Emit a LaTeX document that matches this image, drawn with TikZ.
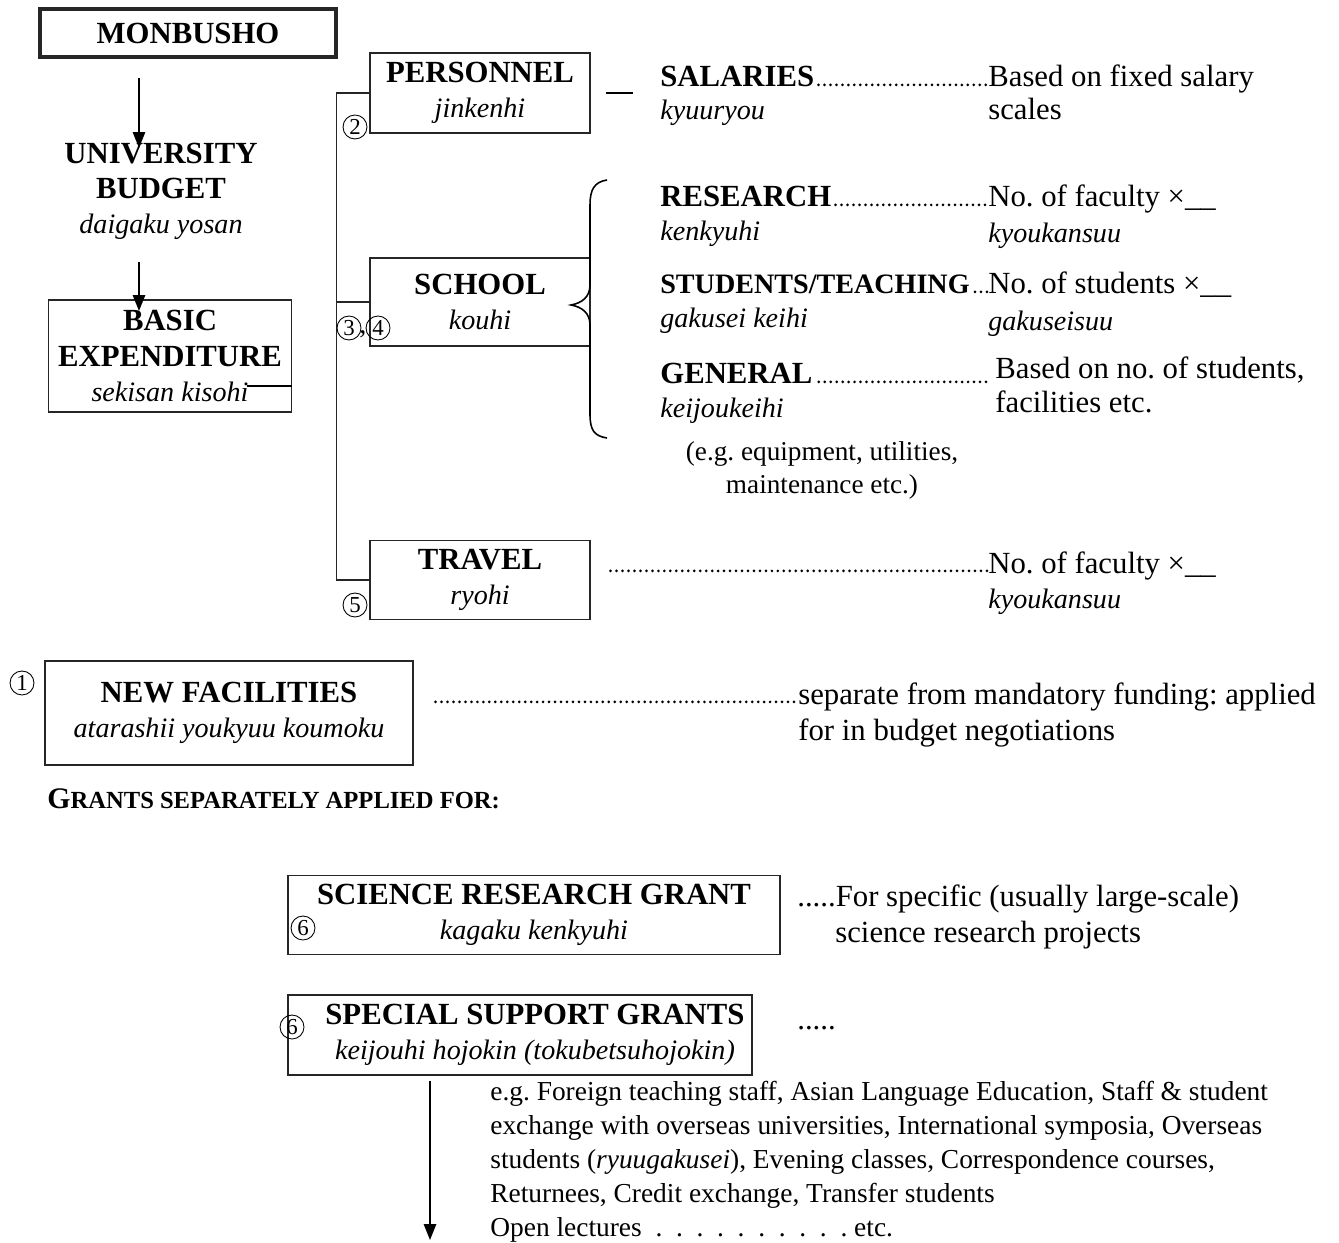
\documentclass[tikz,border=0pt]{standalone}
\usepackage{fontspec}
\setmainfont{Liberation Serif}
\usetikzlibrary{arrows.meta}

\newcommand{\hd}[1]{{\bfseries #1}}
\newcommand{\jp}[1]{{\itshape\fontsize{16}{20}\selectfont #1}}
\frenchspacing

\begin{document}
\begin{tikzpicture}[x=0.02cm, y=-0.02cm, >={Triangle[length=9pt,width=7pt]},
    every node/.style={font=\fontsize{17.5}{20}\selectfont, inner sep=0pt},
    box/.style={draw=black!85, line width=0.7pt, align=center},
    lbl/.style={anchor=base west},
    circnum/.style={circle, draw, line width=0.5pt, minimum size=0.48cm, font=\fontsize{13}{13}\selectfont},
    leader/.style={line width=1.7pt, line cap=round, dash pattern=on 0pt off 3.4pt, transform canvas={yshift=1.2pt}},
    arr/.style={->, line width=0.9pt}]

    \useasboundingbox (0,0) rectangle (1339,1243);

    % ministry down to the basic expenditure
    \node[box, line width=2.4pt, minimum width=5.92cm, minimum height=0.96cm] (monbusho) at (188,33) {\hd{MONBUSHO}};
    \node[align=center] (univ) at (161,191) {\hd{UNIVERSITY}\\\hd{BUDGET}\\\jp{daigaku yosan}};
    \node[box, minimum width=4.86cm, minimum height=2.24cm] (basic) at (170,356) {\hd{BASIC}\\\hd{EXPENDITURE}\\\jp{sekisan kisohi}};
    \coordinate (monfoot) at (139,78);
    \coordinate (univtop) at (139,148);
    \coordinate (budgetfoot) at (139,262);
    \coordinate (basictop) at (139,311);
    \draw[arr] (monfoot) -- (univtop);
    \draw[arr] (budgetfoot) -- (basictop);
    \draw[line width=0.7pt] (basic.east) ++(0,30) -- ++(-45,0);

    % the three heads of expenditure
    \node[box, minimum width=4.4cm, minimum height=1.6cm] (pers) at (480,93) {\hd{PERSONNEL}\\\jp{jinkenhi}};
    \node[box, minimum width=4.4cm, minimum height=1.76cm] (school) at (480,302) {\hd{SCHOOL}\\\jp{kouhi}};
    \node[box, minimum width=4.4cm, minimum height=1.58cm] (travel) at (480,580) {\hd{TRAVEL}\\\jp{ryohi}};
    \draw[line width=0.7pt, draw=black!85] (pers.west) -- ++(-33,0) |- (travel.west);
    \draw[line width=0.7pt, draw=black!85] (school.west) -- ++(-33,0);

    \node[circnum] (c2) at (355,127) {2};
    \node[circnum] (c3) at (349,328) {3};
    \node[anchor=base, font=\fontsize{16}{16}\selectfont] (comma) at (363,334) {,};
    \node[circnum] (c4) at (378,328) {4};
    \node[circnum] (c5) at (355,605) {5};

    \draw[line width=0.7pt] (pers.east) ++(15,0) -- ++(27,0);
    \draw[line width=0.9pt] (607,180) .. controls (594,182) and (590,190) .. (590,205) -- (590,285)
        .. controls (590,297) and (582,303) .. (571,305) .. controls (582,307) and (590,313) .. (590,325)
        -- (590,414) .. controls (590,430) and (594,436) .. (607,438);

    % right column
    \node[lbl] (sal) at (660,87) {\hd{SALARIES}};
    \node[lbl] (salj) at (660,120) {\jp{kyuuryou}};
    \node[lbl] (salr) at (988,87) {Based on fixed salary};
    \node[lbl] (salr2) at (988,120) {scales};
    \draw[leader] (sal.base east) ++(4,0) -- (salr.base west);

    \node[lbl] (res) at (660,207) {\hd{RESEARCH}};
    \node[lbl] (resj) at (660,241) {\jp{kenkyuhi}};
    \node[lbl] (resr) at (988,207) {No. of faculty ×\_\_};
    \node[lbl] (resr2) at (988,243) {\jp{kyoukansuu}};
    \draw[leader] (res.base east) ++(4,0) -- (resr.base west);

    \node[lbl] (stu) at (660,294) {\bfseries\fontsize{16}{20}\selectfont STUDENTS/TEACHING};
    \node[lbl] (stuj) at (660,328) {\jp{gakusei keihi}};
    \node[lbl] (stur) at (988,294) {No. of students ×\_\_};
    \node[lbl] (stur2) at (988,331) {\jp{gakuseisuu}};
    \draw[leader] (stu.base east) ++(5,0) -- (stur.base west);

    \node[lbl] (gen) at (660,384) {\hd{GENERAL}};
    \node[lbl] (genj) at (660,418) {\jp{keijoukeihi}};
    \node[lbl] (genr) at (995,379) {Based on no. of students,};
    \node[lbl] (genr2) at (995,413) {facilities etc.};
    \draw[leader] (gen.base east |- genr.base) ++(6,5) -- ++(172,0);
    \node[anchor=base, font=\fontsize{15.5}{19}\selectfont] (eg1) at (822,460) {(e.g. equipment, utilities,};
    \node[anchor=base, font=\fontsize{15.5}{19}\selectfont] (eg2) at (822,494) {maintenance etc.)};

    \node[lbl] (trv) at (988,573) {No. of faculty ×\_\_};
    \node[lbl] (trv2) at (988,608) {\jp{kyoukansuu}};
    \draw[leader] (travel.east |- trv.base) ++(20,0) -- (trv.base west);

    % new facilities
    \node[box, minimum width=7.36cm, minimum height=2.08cm] (newfac) at (229,713) {\hd{NEW FACILITIES}\\\jp{atarashii youkyuu koumoku}};
    \node[circnum] (c1) at (22,683) {1};
    \node[lbl] (sep) at (798,704) {separate from mandatory funding: applied};
    \node[lbl] (sep2) at (798,740) {for in budget negotiations};
    \draw[leader] (newfac.east |- sep.base) ++(22,0) -- (sep.base west);

    % grants
    \node[lbl] (grants) at (47,808) {\bfseries\fontsize{17}{18}\selectfont G{\fontsize{14}{14}\selectfont RANTS SEPARATELY APPLIED FOR:}};

    \node[box, minimum width=9.84cm, minimum height=1.58cm] (science) at (534,915) {\hd{SCIENCE RESEARCH GRANT}\\\jp{kagaku kenkyuhi}};
    \node[circnum] (c6a) at (303,928) {6};
    \node[lbl] (scir) at (797,906) {.....For specific (usually large-scale)};
    \node[lbl] (scir2) at (835,942) {science research projects};

    \node[box, minimum width=9.28cm, minimum height=1.6cm] (special) at (520,1035) {\hspace*{0.6cm}\hd{SPECIAL SUPPORT GRANTS}\\\hspace*{0.6cm}\jp{keijouhi hojokin (tokubetsuhojokin)}};
    \node[circnum] (c6b) at (292,1027) {6};
    \node[lbl] (spcr) at (797,1029) {.....};
    \coordinate (grantend) at (430,1240);
    \draw[arr] (special.south -| grantend) ++(0,5) -- (grantend);

    \node[anchor=north west, align=left, font=\fontsize{15.6}{19.3}\selectfont] (examples) at (490,1081)
        {e.g. Foreign teaching staff, Asian Language Education, Staff \& student\\
         exchange with overseas universities, International symposia, Overseas\\
         students (\textit{ryuugakusei}), Evening classes, Correspondence courses,\\
         Returnees, Credit exchange, Transfer students\\
         Open lectures \ . \ . \ . \ . \ . \ . \ . \ . \ . \ . etc.};

\end{tikzpicture}
\end{document}
